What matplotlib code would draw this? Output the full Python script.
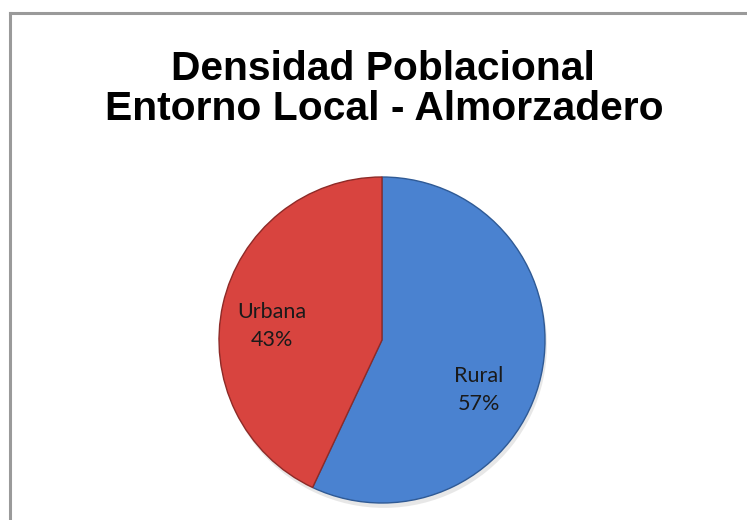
import matplotlib
matplotlib.use("Agg")
import matplotlib.pyplot as plt
from matplotlib.lines import Line2D

title_lines = ["Densidad Poblacional", "Entorno Local - Almorzadero"]
categories = ["Rural", "Urbana"]
values = [57, 43]
colors = ["#4A82D0", "#D8443F"]

W, H = 747, 520
fig = plt.figure(figsize=(W / 100, H / 100), dpi=100)
fig.patch.set_facecolor("white")

# frame (cropped at right and bottom)
fig.add_artist(Line2D([10 / W, 1.0], [1 - 13 / H, 1 - 13 / H], color="#9a9a9a", lw=2.2))
fig.add_artist(Line2D([10 / W, 10 / W], [0, 1 - 13 / H], color="#9a9a9a", lw=2.2))

# title
fig.text(383 / W, 1 - 69 / H, title_lines[0], ha="center", va="center",
         fontsize=29.3, fontweight="bold", family="Liberation Sans", color="#000000")
fig.text(384 / W, 1 - 109 / H, title_lines[1], ha="center", va="center",
         fontsize=29.3, fontweight="bold", family="Liberation Sans", color="#000000")

cx, cy, r = 382, 340, 163
ax = fig.add_axes([(cx - r) / W, (H - cy - r) / H, 2 * r / W, 2 * r / H])
ax.axis("off")

# soft shadow
ax.pie(values, radius=1.0, startangle=90, counterclock=False,
       colors=["#d8d8d8", "#d8d8d8"], center=(0.012, -0.03),
       wedgeprops=dict(linewidth=0, alpha=0.6))
wedges, _ = ax.pie(values, radius=1.0, startangle=90, counterclock=False,
                   colors=colors,
                   wedgeprops=dict(linewidth=1.0, edgecolor="#3a3a3a"))
wedges[0].set_edgecolor("#2f5a95")
wedges[1].set_edgecolor("#8e2a27")
ax.set_xlim(-1, 1)
ax.set_ylim(-1, 1)
ax.set_aspect("equal")

label_pos = {"Rural": (0.595, -0.307), "Urbana": (-0.675, 0.086)}
for cat, v in zip(categories, values):
    x, y = label_pos[cat]
    ax.text(x, y, f"{cat}\n{v}%", ha="center", va="center", fontsize=15.5,
            family="Lato", color="#1a1a1a", linespacing=1.45)

fig.savefig("out.png", dpi=100, facecolor="white")
